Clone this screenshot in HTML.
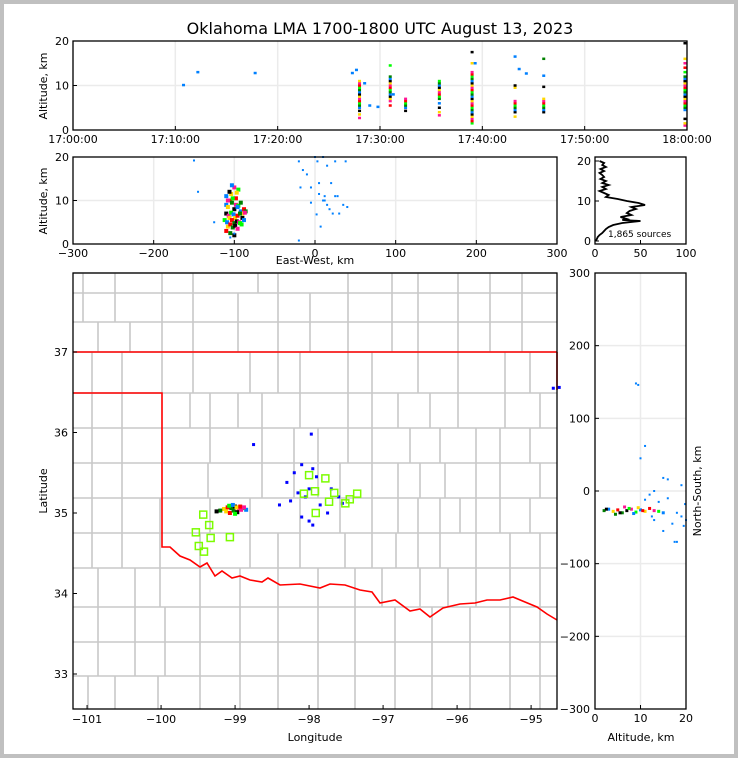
<!DOCTYPE html>
<html><head><meta charset="utf-8"><style>
html,body{margin:0;padding:0;background:#c0c0c0;}
#wrap{position:absolute;left:4px;top:4px;width:730px;height:750px;background:#fff;}
svg{position:absolute;left:0;top:0;}
text{font-family:"DejaVu Sans","Liberation Sans",sans-serif;fill:#000;}
</style></head><body>
<div id="wrap"></div>
<svg id="fig" width="738" height="758">
<text x="380" y="34" font-size="16" text-anchor="middle">Oklahoma LMA 1700-1800 UTC August 13, 2023</text>
<g id="gTop"></g>
<g id="gEW"></g>
<g id="gHist"></g>
<g id="gMap"></g>
<g id="gNS"></g>
</svg>
<script>
// ---------- DATA ----------
const timeTicks=["17:00:00","17:10:00","17:20:00","17:30:00","17:40:00","17:50:00","18:00:00"];
const colTimes=[10.8,12.2,17.8,27.3,27.7,28,28.5,29,29.8,31,31.3,32.5,35.8,39,39.3,43.2,43.6,44.3,46,59.8];
const colAlts=[[10.1],[13],[12.8],[12.8],[13.5],
[2.7,3.5,4.3,5,5.5,6,6.5,7,7.5,8,8.5,9,9.5,10,10.5,11],[10.5],[5.5],[5.2],
[5.5,6.5,7,7.5,8,8.5,9,9.5,10,10.5,11,11.5,12,14.5],[8],[4.3,5,5.5,6,6.5,7],
[3.3,4,5,6,7,7.5,8,8.5,9,9.5,10,10.5,11],
[1.5,2,2.5,3,3.5,4,4.5,5,5.5,6,6.5,7,7.5,8,8.5,9,9.5,10,10.5,11,11.5,12,12.5,13,15,17.5],[15],
[3,4,4.5,5,5.5,6,6.5,9.5,10,16.5],[13.7],[12.7],[4,4.5,5,5.5,6,6.5,7,9.7,12.2,16],
[1,1.5,2.5,4.5,5,5.5,6,6.5,7,7.5,8,8.5,9,9.5,10,10.5,11,11.5,12,13,14,15,16,19.5]];
const ewX=[-110,-108,-105,-103,-100,-98,-95,-92,-90,-88,-86,-110,-107,-104,-101,-99,-96,-93,-90,-87,-112,-109,-106,-103,-100,-97,-94,-91,-88,-108,-105,-102,-99,-96,-93,-110,-104,-98,-92,-106,-100,-95,-103,-97,-110,-105,-100,-108,-102,-96,
-150,-145,-125,-20,-20,-18,-15,-10,-5,0,2,3,5,7,10,12,12,15,18,20,22,25,25,28,30,35,38,40,-5,5,10,15,-105,-100];
const ewAlt=[9,8.5,10,9.5,8,9,8.8,7.5,7,8,7.5,7,6.5,7.2,6.8,6,6.5,7,6,7.2,5.5,5,6,5.5,4.8,5.2,5,4.5,5.5,4,4.5,3.8,4.2,3.5,4.8,11,11.5,10.5,9.5,12,13,12.5,13.5,11.8,3,2.5,2,10,10.5,8.5,
19.2,12,5,0.8,19,13,17,16,9.5,20,6.8,19,14,4,20,11,10,18,8,14,7,19,11,11,7,9,19,8.5,13,11.5,10,9,1.5,2.4];
const histAlt=[0,0.5,1,1.5,2,2.5,3,3.5,4,4.5,5,5.25,5.5,6,6.5,7,7.5,8,8.5,9,9.5,10,10.5,11,11.5,12,12.5,13,13.5,14,14.5,15,15.5,16,16.5,17,17.5,18,18.5,19,19.5,20];
const histCount=[1,2,3,5,8,10,12,15,20,30,50,30,35,28,40,35,38,45,40,55,48,35,25,12,15,10,5,12,8,15,8,12,6,10,8,5,10,6,12,8,10,5];
const srcLon=[-99.15,-99.1,-99.05,-99.0,-98.95,-98.9,-98.85,-99.12,-99.07,-99.02,-98.97,-98.92,-99.08,-99.03,-98.98,-98.93,-99.2,-99.25,-98.88,-99.0,
-98.75,-97.97,-98.2,-98.1,-98.0,-97.9,-97.85,-98.05,-98.25,-98.4,-98.3,-97.7,-97.6,-97.55,-98.0,-97.95,-98.1,-97.75,-94.7,-94.62,-97.95,-98.15];
const srcLat=[35.05,35.07,35.06,35.08,35.05,35.06,35.04,35.02,35.0,35.03,35.01,35.04,35.09,35.1,35.07,35.08,35.03,35.02,35.07,34.99,
35.85,35.98,35.5,35.6,35.3,35.45,35.1,35.2,35.15,35.1,35.38,35.3,35.2,35.12,34.9,34.85,34.95,35.0,36.55,36.56,35.55,35.25];
const staLon=[-99.43,-99.35,-99.53,-99.33,-99.07,-99.49,-99.42,-98.0,-97.78,-97.92,-98.07,-97.66,-97.73,-97.35,-97.45,-97.51,-97.91];
const staLat=[34.98,34.85,34.76,34.69,34.70,34.59,34.52,35.47,35.43,35.27,35.24,35.25,35.14,35.24,35.17,35.12,35.0];
const nsAlt=[3,4,5,6,7,8,9,10,11,12,4.5,5.5,6.5,7.5,8.5,9.5,10.5,2,2.5,13,14,15,9,9.5,10,11,12,13,14,15,16,17,18,19,19.5,20,18,16,15,13,17.5,19,19.8,11,12.5];
const nsKm=[-25,-28,-26,-30,-27,-25,-29,-26,-28,-24,-32,-30,-22,-24,-31,-23,-27,-27,-25,-27,-28,-30,148,146,45,62,-5,0,-15,18,16,-45,-30,-35,-48,-40,-70,-10,-55,-40,-70,8,-18,-12,-35];
const palette=['#0080ff','#ffd700','#ff0000','#008000','#000000','#ff1493','#00ff00'];

// ---------- helpers ----------
const NS='http://www.w3.org/2000/svg';
function mk(parent,tag,attrs){const e=document.createElementNS(NS,tag);for(const k in attrs)e.setAttribute(k,attrs[k]);parent.appendChild(e);return e;}
function lin(d0,d1,p0,p1){return v=>p0+(v-d0)*(p1-p0)/(d1-d0);}
function frame(g,x0,y0,x1,y1){const r=mk(g,'rect',{x:x0,y:y0,width:x1-x0,height:y1-y0,fill:'none',stroke:'#000','stroke-width':1.3});}
function gridV(g,x,y0,y1){mk(g,'line',{x1:x,x2:x,y1:y0,y2:y1,stroke:'#ebebeb','stroke-width':1.5});}
function gridH(g,y,x0,x1){mk(g,'line',{x1:x0,x2:x1,y1:y,y2:y,stroke:'#ebebeb','stroke-width':1.5});}
function txt(g,x,y,s,anchor,size,name,rot){const t=mk(g,'text',{x:x,y:y,'font-size':size||11,'text-anchor':anchor||'middle'});t.textContent=s;if(rot)t.setAttribute('transform','rotate(-90 '+x+' '+y+')');return t;}
function tickX(g,x,y){mk(g,'line',{x1:x,x2:x,y1:y,y2:y-4,stroke:'#000'});}
function tickY(g,x,y){mk(g,'line',{x1:x,x2:x+4,y1:y,y2:y,stroke:'#000'});}
function dot(g,x,y,c,w,h,name){const r=mk(g,'rect',{x:x-(w||3)/2,y:y-(h||3)/2,width:w||3,height:h||3,fill:c});}

// ---------- top panel ----------
(function(){
const g=document.getElementById('gTop');const X0=73,X1=687,Y0=41,Y1=130;
const sx=lin(0,60,X0,X1), sy=lin(0,20,Y1,Y0);
for(let i=0;i<timeTicks.length;i++){const x=sx(i*10);gridV(g,x,Y0,Y1);}
gridH(g,sy(10),X0,X1);
colTimes.forEach((t,i)=>{const a=colAlts[i];a.forEach((v,j)=>{const c=a.length<5?'#0080ff':palette[(j*3+i)%palette.length];dot(g,sx(t),sy(v),c,3,2.5,'time-source-point');});});
frame(g,X0,Y0,X1,Y1);
timeTicks.forEach((s,i)=>{const x=sx(i*10);tickX(g,x,Y1);txt(g,x,Y1+13,s,'middle',11,'time-tick-label');});
[0,10,20].forEach(v=>{tickY(g,X0,sy(v));txt(g,X0-4,sy(v)+4,String(v),'end',11,'altitude-tick-label');});
txt(g,47,86,'Altitude, km','middle',11,'y-axis-title',true);
})();

// ---------- EW panel ----------
(function(){
const g=document.getElementById('gEW');const X0=73,X1=557,Y0=157,Y1=244;
const sx=lin(-300,300,X0,X1), sy=lin(0,20,Y1,Y0);
[-200,-100,0,100,200].forEach(v=>gridV(g,sx(v),Y0,Y1));gridH(g,sy(10),X0,X1);
ewX.forEach((x,i)=>{const c=i<50?palette[i%palette.length]:'#0080ff';dot(g,sx(x),sy(ewAlt[i]),c,i<50?4:2,i<50?4:2,'ew-source-point');});
frame(g,X0,Y0,X1,Y1);
[-300,-200,-100,0,100,200,300].forEach(v=>{tickX(g,sx(v),Y1);txt(g,sx(v),Y1+13,String(v).replace('-','\u2212'),'middle',11,'ew-tick-label');});
[0,10,20].forEach(v=>{tickY(g,X0,sy(v));txt(g,X0-4,sy(v)+4,String(v),'end',11,'altitude-tick-label');});
txt(g,47,201,'Altitude, km','middle',11,'y-axis-title',true);
txt(g,315,264,'East-West, km','middle',11,'x-axis-title');
})();

// ---------- histogram ----------
(function(){
const g=document.getElementById('gHist');const X0=595,X1=686,Y0=157,Y1=244;
const sx=lin(0,100,X0,X1), sy=lin(0,20,241,161);
const pts=histAlt.map((a,i)=>sx(histCount[i])+','+sy(a)).join(' ');
const p=mk(g,'polyline',{points:pts,fill:'none',stroke:'#000','stroke-width':1.8});

frame(g,X0,Y0,X1,Y1);
[0,50,100].forEach(v=>{tickX(g,sx(v),Y1);txt(g,sx(v),Y1+13,String(v),'middle',11,'count-tick-label');});
[0,10,20].forEach(v=>{tickY(g,X0,sy(v));txt(g,X0-4,sy(v)+4,String(v),'end',11,'altitude-tick-label');});
txt(g,608,237,'1,865 sources','start',9,'source-count-label');
})();

// ---------- map ----------
(function(){
const g=document.getElementById('gMap');const X0=73,X1=557,Y0=273,Y1=709;
const sx=lin(-101.19,-94.65,X0,X1), sy=lin(37,33,352,674);
const cg=mk(g,'g',{stroke:'#c8c8c8','stroke-width':1.6,fill:'none'});

const bands=[[273,293,[83,115,162,193,258,278,348,392,418,458,490,522]],[293,322,[83,115,162,193,238,278,310,348,392,418,458,490,522]],[322,352,[98,130,162,193,238,278,310,348,392,418,458,490,522]],
[352,393,[92,122,162,193,250,278,300,348,372,418,458,505,530]],[393,428,[92,122,190,210,238,262,300,348,372,398,430,458,505,540]],[428,463,[92,122,210,262,294,318,348,372,410,440,476,500,530]],
[463,498,[92,122,208,262,294,318,340,372,398,420,445,476,500,540]],[498,533,[92,122,160,210,250,300,340,372,398,418,440,460,476,500,530]],[533,568,[92,122,160,200,250,278,300,345,372,396,418,440,476,510,540]],
[568,607,[98,135,160,200,240,278,318,355,382,420,448,476,510,540]],[607,642,[98,135,165,200,240,278,318,355,395,432,470,510,540]],[642,676,[98,135,165,200,240,278,318,355,395,432,470,510,540]],[676,709,[88,115,158,200,240,278,318,355,395,432,470,510,540]]];
bands.forEach(b=>{mk(cg,'line',{x1:X0,x2:X1,y1:b[0],y2:b[0]});b[2].forEach(x=>mk(cg,'line',{x1:x,x2:x,y1:b[0],y2:b[1]}));});
const red=mk(g,'polyline',{points:'73,352 557,352',fill:'none',stroke:'#f00','stroke-width':1.6});

const r2=mk(g,'polyline',{points:'557,352 557,390',fill:'none',stroke:'#f00','stroke-width':1.6});
const r3=mk(g,'polyline',{points:'73,393 162,393 162,547 170,547 180,556 190,560 200,567 207,563 215,576 222,571 232,578 240,576 250,580 262,582 268,578 280,585 300,584 320,588 330,584 345,585 360,590 372,592 380,603 395,600 410,611 420,609 430,617 443,608 460,604 475,603 487,600 500,600 513,597 525,602 537,607 547,614 557,620',fill:'none',stroke:'#f00','stroke-width':1.6});

srcLon.forEach((lo,i)=>{const c=i<20?palette[(i+1)%palette.length]:'#0000ff';dot(g,sx(lo),sy(srcLat[i]),c,i<20?4:3,i<20?4:3,'map-source-point');});
staLon.forEach((lo,i)=>{const r=mk(g,'rect',{x:sx(lo)-3.5,y:sy(staLat[i])-3.5,width:7,height:7,fill:'none',stroke:'#7cfc00','stroke-width':1.5});});
frame(g,X0,Y0,X1,Y1);
[-101,-100,-99,-98,-97,-96,-95].forEach(v=>{tickX(g,sx(v),Y1);txt(g,sx(v),Y1+14,String(v).replace('-','\u2212'),'middle',11,'longitude-tick-label');});
[33,34,35,36,37].forEach(v=>{tickY(g,X0,sy(v));txt(g,X0-5,sy(v)+4,String(v),'end',11,'latitude-tick-label');});
txt(g,47,491,'Latitude','middle',11,'y-axis-title',true);
txt(g,315,741,'Longitude','middle',11,'x-axis-title');
})();

// ---------- NS panel ----------
(function(){
const g=document.getElementById('gNS');const X0=595,X1=686,Y0=273,Y1=709;
const sx=lin(0,20,X0,X1), sy=lin(-300,300,Y1,Y0);
gridV(g,sx(10),Y0,Y1);[-200,-100,0,100,200].forEach(v=>gridH(g,sy(v),X0,X1));
nsAlt.forEach((a,i)=>{const c=i<22?palette[i%palette.length]:'#0080ff';dot(g,sx(a),sy(nsKm[i]),c,i<22?3:2,i<22?3:2,'ns-source-point');});
frame(g,X0,Y0,X1,Y1);
[0,10,20].forEach(v=>{tickX(g,sx(v),Y1);txt(g,sx(v),Y1+13,String(v),'middle',11,'altitude-tick-label');});
[-300,-200,-100,0,100,200,300].forEach(v=>{tickY(g,X0,sy(v));txt(g,X0-5,sy(v)+4,String(v).replace('-','\u2212'),'end',11,'ns-tick-label');});
txt(g,701,491,'North-South, km','middle',11,'y-axis-title',true);
txt(g,641,741,'Altitude, km','middle',11,'x-axis-title');
})();
</script>
</body></html>
